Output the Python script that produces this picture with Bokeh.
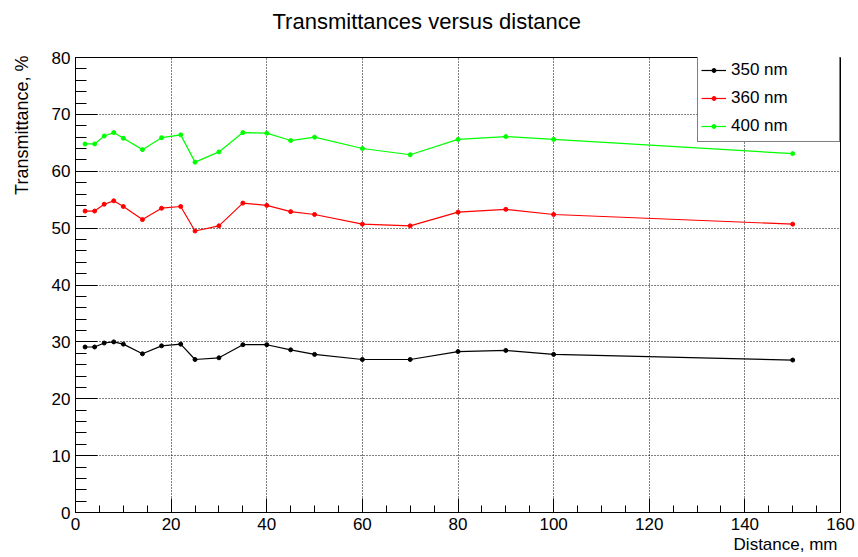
from bokeh.plotting import figure
from bokeh.models import (Range1d, SingleIntervalTicker, Title, Legend, LegendItem)
from bokeh.embed import file_html
from bokeh.resources import INLINE

# ---- data ----
distance = [2, 4, 6, 8, 10, 14, 18, 22, 25, 30, 35, 40, 45, 50, 60, 70, 80, 90, 100, 150]
t350 = [29.1, 29.1, 29.8, 30.0, 29.6, 27.9, 29.3, 29.6, 26.9, 27.2, 29.5, 29.5, 28.6, 27.8,
        26.9, 26.9, 28.3, 28.5, 27.8, 26.8]
t360 = [53.0, 53.0, 54.2, 54.8, 53.8, 51.5, 53.5, 53.8, 49.5, 50.4, 54.4, 54.0, 52.9, 52.4,
        50.7, 50.4, 52.8, 53.3, 52.4, 50.7]
t400 = [64.8, 64.8, 66.2, 66.8, 65.8, 63.8, 65.9, 66.4, 61.6, 63.4, 66.8, 66.7, 65.4, 66.0,
        64.0, 62.9, 65.6, 66.1, 65.6, 63.1]
series_names = ["350 nm", "360 nm", "400 nm"]
series_colors = ["#000000", "#ff0000", "#00ff00"]
title_text = "Transmittances versus distance"
x_title = "Distance, mm"
y_title = "Transmittance, %"

FONT = "Liberation Sans"

p = figure(width=858, height=557, output_backend="svg", toolbar_location=None,
           x_range=Range1d(0, 160), y_range=Range1d(0, 80),
           min_border_left=75, min_border_right=18, min_border_top=57, min_border_bottom=45)
p.background_fill_color = "white"
p.border_fill_color = "white"
p.outline_line_color = "black"
p.outline_line_width = 1

p.xaxis.ticker = SingleIntervalTicker(interval=20, num_minor_ticks=4)
p.yaxis.ticker = SingleIntervalTicker(interval=10, num_minor_ticks=5)
for ax in (p.xaxis, p.yaxis):
    ax.axis_line_color = "black"
    ax.major_tick_line_color = "black"
    ax.minor_tick_line_color = "black"
    ax.major_tick_out = 0
    ax.minor_tick_out = 0
    ax.major_label_text_font = FONT
    ax.major_label_text_font_size = "17px"
    ax.major_label_text_color = "black"
    ax.major_label_standoff = 5
p.xaxis.major_tick_in = 14
p.xaxis.minor_tick_in = 7
p.yaxis.major_tick_in = 22
p.yaxis.minor_tick_in = 11

for g in (p.xgrid, p.ygrid):
    g.grid_line_color = "black"
    g.grid_line_dash = "1 2"
    g.grid_line_width = 1

items = []
for ys, name, col in zip([t350, t360, t400], series_names, series_colors):
    r1 = p.line(distance, ys, line_color=col, line_width=1.2)
    r2 = p.scatter(distance, ys, marker="circle", size=4, fill_color=col, line_color=col)
    items.append(LegendItem(label=name, renderers=[r1, r2]))

legend = Legend(items=items, location=(622, 370), orientation="vertical",
                label_text_font=FONT, label_text_font_size="17px", label_text_color="black",
                glyph_width=25, glyph_height=10, label_height=25, label_width=105,
                spacing=3, padding=3, label_standoff=5, margin=0,
                border_line_color="black", border_line_width=1,
                background_fill_color="white", background_fill_alpha=1.0)
p.add_layout(legend, "center")

# main title: a spacer keeps it away from the frame
p.add_layout(Title(text=" ", text_font_size="1px", standoff=21), "above")
p.add_layout(Title(text=title_text, align="left", offset=197, standoff=0,
                   vertical_align="bottom", text_font=FONT, text_font_size="22px",
                   text_font_style="normal", text_color="black"), "above")

# y title, pushed to the left edge by a spacer
p.add_layout(Title(text=" ", text_font_size="1px", standoff=14), "left")
p.add_layout(Title(text=y_title, align="right", offset=-2, standoff=0,
                   vertical_align="bottom", text_font=FONT, text_font_size="18px",
                   text_font_style="normal", text_color="black"), "left")

p.add_layout(Title(text=x_title, align="right", offset=3, standoff=0,
                   text_font=FONT, text_font_size="17px", text_font_style="normal",
                   text_color="black"), "below")

open("out.html", "w").write(file_html(p, INLINE))
